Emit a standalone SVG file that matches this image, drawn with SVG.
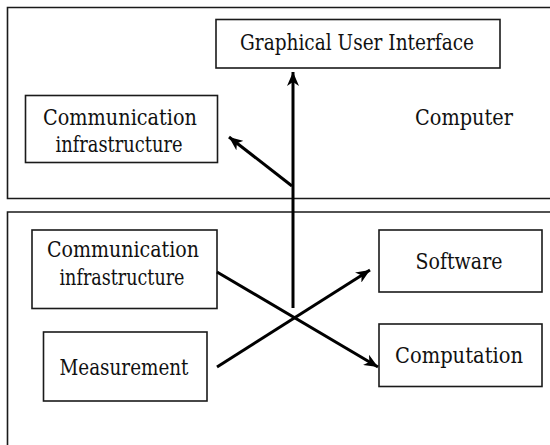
<svg xmlns="http://www.w3.org/2000/svg" width="550" height="445" viewBox="0 0 550 445">
<defs>
<style>
.frame{fill:none;stroke:#1a1a1a;stroke-width:1.6}
.box{fill:#fff;stroke:#1a1a1a;stroke-width:1.6}
.lbl{font-family:'DejaVu Serif','Liberation Serif',serif;font-size:22px;fill:#111;text-anchor:middle}
.conn{stroke:#000;stroke-width:3;fill:none;marker-end:url(#arr)}
</style>
<marker id="arr" markerUnits="userSpaceOnUse" markerWidth="16" markerHeight="12" refX="14" refY="6" orient="auto"><path d="M0,0 L14,6 L0,12 L4,6 z" fill="#000"/></marker>
</defs>
<g id="computer-frame">
<path class="frame" d="M551,7.5 H7.5 V198.5 H551"/>
<text class="lbl" x="464" y="125" textLength="98" lengthAdjust="spacingAndGlyphs">Computer</text>
</g>
<g id="field-frame">
<path class="frame" d="M551,212 H7.5 V446"/>
</g>
<g id="gui">
<rect class="box" x="216" y="19.5" width="284" height="48.5"/>
<text class="lbl" x="357" y="50" textLength="234" lengthAdjust="spacingAndGlyphs">Graphical User Interface</text>
</g>
<g id="comm-top">
<rect class="box" x="25.5" y="95.5" width="192" height="67"/>
<text class="lbl" x="120" y="125" textLength="154" lengthAdjust="spacingAndGlyphs">Communication</text>
<text class="lbl" x="119" y="151.5" textLength="127" lengthAdjust="spacingAndGlyphs">infrastructure</text>
</g>
<g id="comm-bottom">
<rect class="box" x="32" y="230" width="185" height="78.5"/>
<text class="lbl" x="123" y="257" textLength="152" lengthAdjust="spacingAndGlyphs">Communication</text>
<text class="lbl" x="122" y="285" textLength="125" lengthAdjust="spacingAndGlyphs">infrastructure</text>
</g>
<g id="measurement">
<rect class="box" x="43.5" y="332" width="163.5" height="69"/>
<text class="lbl" x="124" y="375" textLength="129" lengthAdjust="spacingAndGlyphs">Measurement</text>
</g>
<g id="software">
<rect class="box" x="379" y="230" width="163" height="62"/>
<text class="lbl" x="459" y="269" textLength="87" lengthAdjust="spacingAndGlyphs">Software</text>
</g>
<g id="computation">
<rect class="box" x="379" y="324" width="163" height="62.5"/>
<text class="lbl" x="459" y="363" textLength="128" lengthAdjust="spacingAndGlyphs">Computation</text>
</g>
<g id="connectors">
<path class="conn" d="M293,308 V72"/>
<path class="conn" d="M292,186 L229,137"/>
<path class="conn" d="M217,272 L378,367"/>
<path class="conn" d="M217,367 L370,270"/>
</g>
</svg>
